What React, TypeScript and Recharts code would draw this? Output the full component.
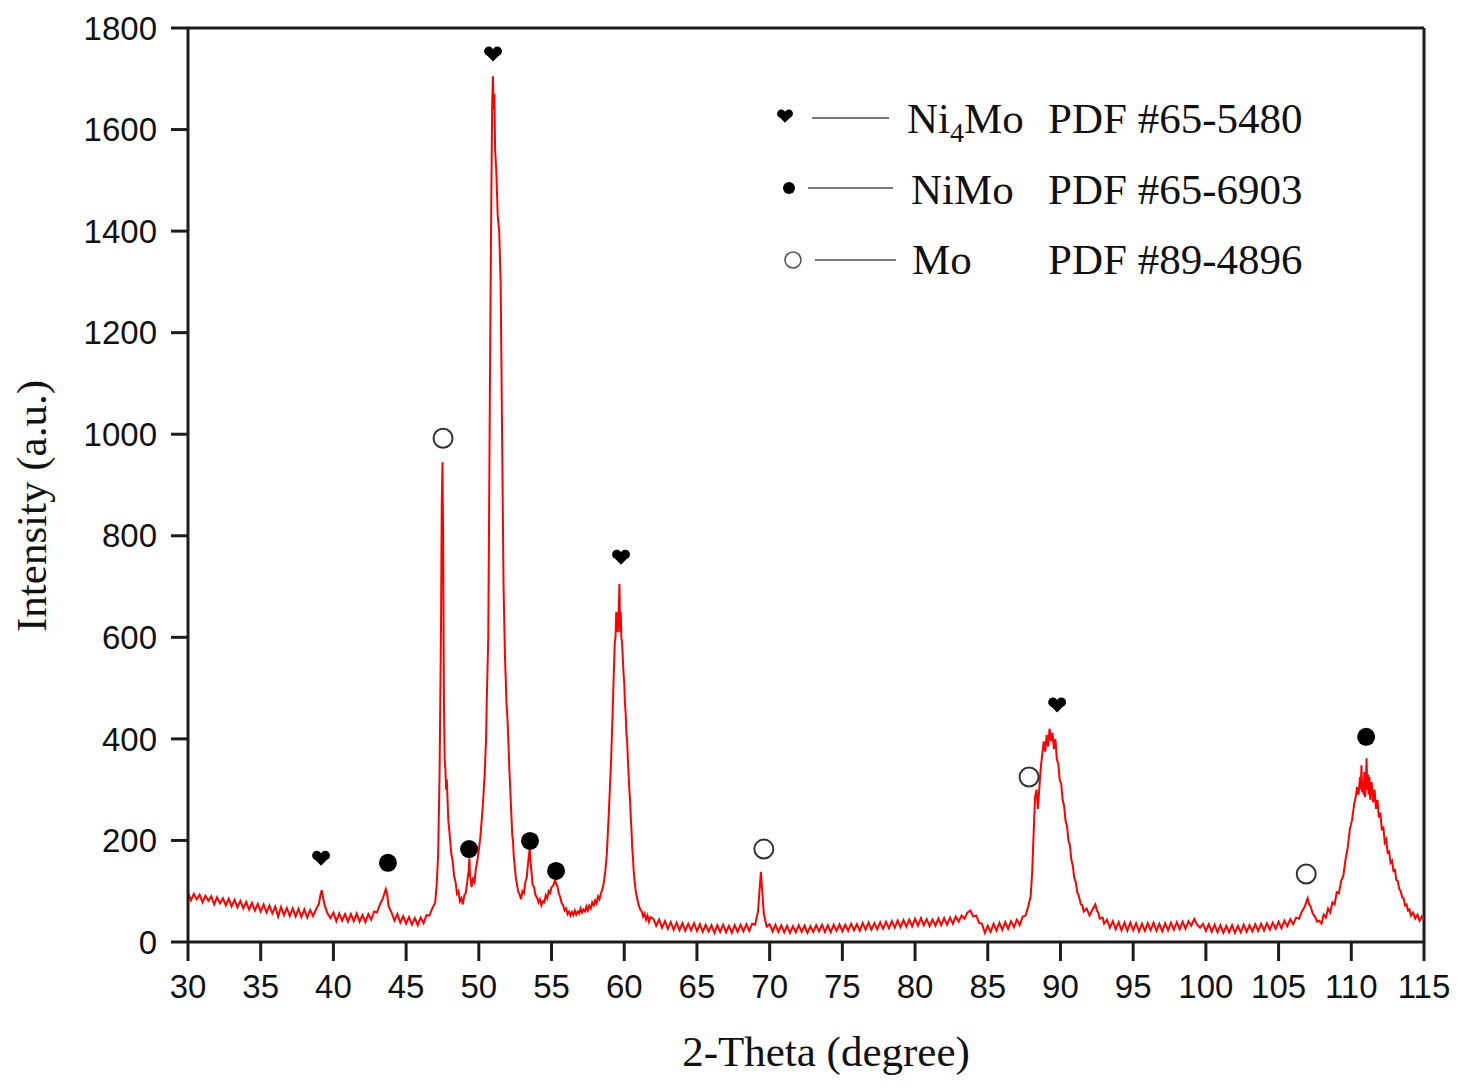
import { ComposedChart, Line, Scatter, XAxis, YAxis, ReferenceLine, Label } from "recharts";

// 2-Theta (degree), intensity (a.u.)
const xrdScan: [number, number][] = [
  [30.0, 98], [30.2, 82], [30.4, 95], [30.6, 84], [30.8, 93], [31.0, 78], [31.2, 91], [31.4, 81], [31.6, 90], [31.8, 74],
  [32.0, 88], [32.2, 76], [32.4, 86], [32.6, 72], [32.8, 85], [33.0, 70], [33.2, 83], [33.4, 68], [33.6, 81], [33.8, 66],
  [34.0, 79], [34.2, 64], [34.4, 77], [34.6, 62], [34.8, 75], [35.0, 60], [35.2, 74], [35.4, 58], [35.6, 72], [35.8, 56],
  [36.0, 70], [36.2, 50], [36.4, 69], [36.6, 53], [36.8, 67], [37.0, 51], [37.2, 66], [37.4, 50], [37.6, 65], [37.8, 49],
  [38.0, 64], [38.2, 48], [38.4, 63], [38.6, 51], [38.8, 64], [39.0, 75], [39.1, 92], [39.2, 102], [39.3, 86], [39.4, 72],
  [39.6, 56], [39.8, 47], [40.0, 58], [40.2, 41], [40.4, 56], [40.6, 42], [40.8, 55], [41.0, 40], [41.2, 55], [41.4, 41],
  [41.6, 56], [41.8, 40], [42.0, 53], [42.2, 39], [42.4, 55], [42.6, 44], [42.8, 60], [43.0, 58], [43.2, 74], [43.4, 86],
  [43.6, 104], [43.7, 94], [43.8, 70], [44.0, 58], [44.2, 42], [44.4, 55], [44.6, 38], [44.8, 51], [45.0, 36], [45.2, 49],
  [45.4, 34], [45.6, 47], [45.8, 33], [46.0, 48], [46.2, 37], [46.4, 53], [46.6, 52], [46.8, 66], [47.0, 78], [47.1, 112],
  [47.2, 170], [47.3, 330], [47.4, 620], [47.45, 860], [47.5, 945], [47.55, 780], [47.6, 480], [47.65, 360], [47.7, 340],
  [47.75, 300], [47.8, 320], [47.9, 240], [48.0, 210], [48.1, 175], [48.2, 160], [48.3, 130], [48.4, 118], [48.5, 95],
  [48.6, 100], [48.7, 80], [48.8, 86], [48.9, 74], [49.0, 92], [49.1, 96], [49.2, 118], [49.3, 140], [49.35, 165],
  [49.4, 130], [49.45, 122], [49.5, 108], [49.6, 124], [49.7, 118], [49.8, 145], [49.9, 160], [50.0, 182], [50.1, 205],
  [50.2, 240], [50.3, 280], [50.4, 330], [50.5, 400], [50.55, 480], [50.65, 600], [50.72, 900], [50.8, 1250],
  [50.87, 1500], [50.92, 1650], [50.97, 1705], [51.02, 1640], [51.07, 1670], [51.12, 1560], [51.2, 1520], [51.3, 1430],
  [51.4, 1400], [51.5, 1300], [51.6, 1000], [51.7, 700], [51.8, 560], [51.85, 520], [51.9, 470], [51.95, 450],
  [52.0, 420], [52.05, 380], [52.1, 340], [52.15, 310], [52.2, 275], [52.3, 210], [52.35, 200], [52.4, 170], [52.5, 140],
  [52.55, 125], [52.6, 118], [52.7, 100], [52.8, 94], [52.9, 84], [53.0, 100], [53.1, 96], [53.2, 118], [53.3, 128],
  [53.35, 145], [53.45, 172], [53.5, 184], [53.55, 160], [53.6, 145], [53.7, 112], [53.8, 108], [53.9, 92], [54.0, 88],
  [54.1, 78], [54.2, 84], [54.3, 72], [54.4, 80], [54.5, 78], [54.6, 92], [54.7, 86], [54.8, 100], [54.9, 96],
  [55.0, 108], [55.1, 110], [55.25, 122], [55.3, 116], [55.4, 110], [55.5, 96], [55.6, 88], [55.7, 76], [55.8, 72],
  [55.9, 62], [56.0, 66], [56.1, 55], [56.2, 60], [56.3, 52], [56.4, 59], [56.5, 53], [56.6, 62], [56.7, 54], [56.8, 60],
  [56.9, 56], [57.0, 66], [57.1, 58], [57.2, 64], [57.3, 60], [57.4, 70], [57.5, 62], [57.6, 72], [57.7, 66], [57.8, 78],
  [57.9, 72], [58.0, 82], [58.1, 76], [58.2, 90], [58.3, 84], [58.4, 96], [58.5, 104], [58.6, 118], [58.7, 140],
  [58.8, 172], [58.95, 260], [59.1, 360], [59.2, 450], [59.25, 500], [59.35, 590], [59.4, 600], [59.45, 650], [59.5, 640],
  [59.55, 610], [59.6, 630], [59.67, 705], [59.72, 610], [59.76, 650], [59.8, 600], [59.85, 590], [59.9, 560],
  [59.95, 530], [60.0, 510], [60.05, 470], [60.1, 450], [60.15, 410], [60.2, 395], [60.25, 360], [60.3, 330],
  [60.35, 300], [60.4, 280], [60.45, 245], [60.5, 220], [60.55, 185], [60.6, 165], [60.65, 140], [60.7, 124], [60.8, 98],
  [60.9, 84], [61.0, 72], [61.1, 64], [61.2, 60], [61.3, 50], [61.4, 56], [61.5, 44], [61.6, 52], [61.7, 40], [61.8, 49],
  [62.0, 46], [62.2, 32], [62.4, 44], [62.6, 28], [62.8, 41], [63.0, 26], [63.2, 39], [63.4, 24], [63.6, 38], [63.8, 23],
  [64.0, 37], [64.2, 22], [64.4, 36], [64.6, 23], [64.8, 37], [65.0, 22], [65.2, 35], [65.4, 20], [65.6, 34], [65.8, 21],
  [66.0, 33], [66.2, 18], [66.4, 33], [66.6, 20], [66.8, 34], [67.0, 19], [67.2, 32], [67.4, 18], [67.6, 33], [67.8, 20],
  [68.0, 34], [68.2, 21], [68.4, 35], [68.6, 22], [68.8, 36], [69.0, 34], [69.2, 60], [69.3, 100], [69.4, 138],
  [69.5, 95], [69.6, 55], [69.7, 42], [69.8, 30], [70.0, 35], [70.2, 21], [70.4, 34], [70.6, 20], [70.8, 33], [71.0, 19],
  [71.2, 32], [71.4, 18], [71.6, 31], [71.8, 19], [72.0, 33], [72.2, 20], [72.4, 32], [72.6, 18], [72.8, 31], [73.0, 20],
  [73.2, 33], [73.4, 21], [73.6, 34], [73.8, 20], [74.0, 33], [74.2, 19], [74.4, 34], [74.6, 22], [74.8, 35], [75.0, 21],
  [75.2, 34], [75.4, 22], [75.6, 36], [75.8, 23], [76.0, 35], [76.2, 22], [76.4, 37], [76.6, 24], [76.8, 38], [77.0, 24],
  [77.2, 37], [77.4, 25], [77.6, 39], [77.8, 26], [78.0, 40], [78.2, 27], [78.4, 41], [78.6, 28], [78.8, 42], [79.0, 29],
  [79.2, 43], [79.4, 30], [79.6, 44], [79.8, 31], [80.0, 46], [80.2, 32], [80.4, 47], [80.6, 33], [80.8, 45], [81.0, 31],
  [81.2, 44], [81.4, 32], [81.6, 46], [81.8, 33], [82.0, 47], [82.2, 34], [82.4, 48], [82.6, 36], [82.8, 50], [83.0, 40],
  [83.2, 52], [83.4, 46], [83.6, 58], [83.8, 62], [84.0, 50], [84.2, 52], [84.4, 38], [84.6, 36], [84.8, 18], [85.0, 32],
  [85.2, 20], [85.4, 36], [85.6, 22], [85.8, 38], [86.0, 24], [86.2, 39], [86.4, 26], [86.6, 41], [86.8, 29], [87.0, 44],
  [87.2, 33], [87.4, 50], [87.6, 52], [87.8, 72], [87.95, 90], [88.05, 135], [88.15, 210], [88.25, 285], [88.35, 300],
  [88.45, 262], [88.55, 305], [88.65, 345], [88.75, 370], [88.85, 395], [88.95, 375], [89.05, 408], [89.15, 385],
  [89.25, 420], [89.35, 395], [89.45, 412], [89.55, 380], [89.65, 400], [89.75, 360], [89.85, 350], [89.95, 318],
  [90.05, 312], [90.15, 280], [90.25, 268], [90.35, 238], [90.45, 228], [90.55, 200], [90.65, 190], [90.75, 162],
  [90.85, 150], [90.95, 126], [91.05, 118], [91.15, 98], [91.25, 92], [91.4, 74], [91.5, 72], [91.6, 60], [91.8, 66],
  [92.0, 52], [92.2, 64], [92.4, 74], [92.5, 62], [92.6, 58], [92.7, 46], [92.9, 48], [93.0, 36], [93.2, 44], [93.4, 28],
  [93.6, 41], [93.8, 25], [94.0, 39], [94.2, 23], [94.4, 38], [94.6, 22], [94.8, 38], [95.0, 23], [95.2, 37], [95.4, 21],
  [95.6, 36], [95.8, 22], [96.0, 37], [96.2, 23], [96.4, 38], [96.6, 22], [96.8, 36], [97.0, 21], [97.2, 37], [97.4, 23],
  [97.6, 38], [97.8, 24], [98.0, 39], [98.2, 25], [98.4, 40], [98.6, 26], [98.8, 41], [99.0, 32], [99.2, 45], [99.4, 34],
  [99.6, 28], [99.8, 36], [100.0, 22], [100.2, 35], [100.4, 20], [100.6, 34], [100.8, 19], [101.0, 33], [101.2, 18],
  [101.4, 32], [101.6, 19], [101.8, 33], [102.0, 18], [102.2, 32], [102.4, 19], [102.6, 34], [102.8, 20], [103.0, 33],
  [103.2, 21], [103.4, 35], [103.6, 22], [103.8, 36], [104.0, 23], [104.2, 37], [104.4, 24], [104.6, 38], [104.8, 26],
  [105.0, 40], [105.2, 27], [105.4, 42], [105.6, 31], [105.8, 45], [106.0, 35], [106.2, 48], [106.4, 46], [106.6, 60],
  [106.8, 70], [106.9, 78], [107.0, 86], [107.1, 74], [107.2, 70], [107.35, 56], [107.5, 50], [107.65, 40], [107.8, 42],
  [107.95, 36], [108.1, 54], [108.25, 48], [108.4, 66], [108.55, 58], [108.7, 78], [108.85, 74], [109.0, 98],
  [109.15, 96], [109.3, 120], [109.45, 130], [109.6, 162], [109.75, 185], [109.9, 222], [110.05, 240], [110.2, 272],
  [110.3, 285], [110.4, 305], [110.5, 290], [110.6, 325], [110.65, 300], [110.7, 348], [110.75, 295], [110.8, 318],
  [110.85, 290], [110.9, 335], [110.95, 285], [111.0, 310], [111.05, 362], [111.1, 300], [111.15, 330], [111.2, 290],
  [111.25, 325], [111.3, 280], [111.4, 315], [111.5, 275], [111.6, 300], [111.7, 262], [111.8, 280], [111.9, 245],
  [112.0, 255], [112.1, 220], [112.2, 228], [112.3, 196], [112.4, 202], [112.5, 176], [112.6, 178], [112.7, 156],
  [112.8, 160], [112.9, 140], [113.0, 142], [113.1, 122], [113.2, 120], [113.3, 104], [113.4, 100], [113.5, 88],
  [113.6, 86], [113.7, 72], [113.8, 74], [113.9, 62], [114.0, 64], [114.1, 52], [114.25, 58], [114.4, 46], [114.55, 54],
  [114.7, 42], [114.85, 50], [115.0, 45],
];

// phase markers: [2-Theta, marker height]
const ni4moPeaks: [number, number][] = [[39.15, 165], [50.98, 1749], [59.78, 758], [89.77, 467]];
const nimoPeaks: [number, number][] = [[43.75, 156], [49.33, 183], [53.52, 199], [55.31, 140], [111.02, 404]];
const moPeaks: [number, number][] = [[47.54, 992], [69.6, 183], [87.84, 325], [106.9, 134]];

const xTicks = [30, 35, 40, 45, 50, 55, 60, 65, 70, 75, 80, 85, 90, 95, 100, 105, 110, 115];
const yTicks = [0, 200, 400, 600, 800, 1000, 1200, 1400, 1600, 1800];

const toPoints = (rows: [number, number][]) => rows.map(([theta, counts]) => ({ theta, counts }));

const SANS = "'Liberation Sans', Arial, sans-serif";
const SERIF = "'Liberation Serif', 'Times New Roman', serif";
const AXIS = "#1c1c1c";

// heart made of two lobes and a point, s = half width
function HeartGlyph({ cx, cy, s }: { cx: number; cy: number; s: number }) {
  const r = s * 0.52;
  return (
    <g fill="#000">
      <circle cx={cx - s * 0.47} cy={cy - s * 0.3} r={r} />
      <circle cx={cx + s * 0.47} cy={cy - s * 0.3} r={r} />
      <path d={`M ${cx - s * 0.98} ${cy - s * 0.15} L ${cx + s * 0.98} ${cy - s * 0.15} L ${cx} ${cy + s * 0.85} Z`} />
    </g>
  );
}

const Heart = (props: any) => <HeartGlyph cx={props.cx} cy={props.cy} s={9} />;
const Dot = (props: any) => <circle cx={props.cx} cy={props.cy} r={9} fill="#000" />;
const Ring = (props: any) => <circle cx={props.cx} cy={props.cy} r={9.5} fill="#fff" stroke="#333" strokeWidth={2} />;

function LegendRow({ top, symbol, lineFrom, lineTo, name }: any) {
  return (
    <div style={{ position: "absolute", left: 0, top: 0 }}>
      <svg style={{ position: "absolute", left: 760, top: top - 20 }} width={150} height={40}>
        {symbol}
        <line x1={lineFrom - 760} x2={lineTo - 760} y1={20} y2={20} stroke="#777" strokeWidth={2} />
      </svg>
      {name}
    </div>
  );
}

export default function App() {
  const textStyle = { position: "absolute" as const, fontFamily: SERIF, fontSize: 43, lineHeight: "43px", color: "#111", whiteSpace: "nowrap" as const };
  return (
    <div style={{ position: "relative", width: 1460, height: 1080 }}>
      <ComposedChart width={1460} height={1080} margin={{ top: 20, right: 44, left: 0, bottom: 0 }}>
        <XAxis
          dataKey="theta"
          type="number"
          domain={[30, 115]}
          ticks={xTicks}
          allowDataOverflow
          height={146}
          tickSize={19}
          tickMargin={14}
          axisLine={{ stroke: AXIS, strokeWidth: 3 }}
          tickLine={{ stroke: AXIS, strokeWidth: 3 }}
          tick={{ fill: "#111", fontSize: 33, fontFamily: SANS }}
        >
          <Label
            content={() => (
              <text x={818} y={1058} textAnchor="middle" fontFamily={SERIF} fontSize={43} fill="#111">
                2-Theta (degree)
              </text>
            )}
          />
        </XAxis>
        <YAxis
          dataKey="counts"
          type="number"
          domain={[0, 1800]}
          ticks={yTicks}
          allowDataOverflow
          width={180}
          tickSize={17}
          tickMargin={14}
          axisLine={{ stroke: AXIS, strokeWidth: 3 }}
          tickLine={{ stroke: AXIS, strokeWidth: 3 }}
          tick={{ fill: "#111", fontSize: 33, fontFamily: SANS }}
        >
          <Label
            content={() => (
              <text x={38} y={498} transform="rotate(-90 38 498)" textAnchor="middle" fontFamily={SERIF} fontSize={43} fill="#111">
                Intensity (a.u.)
              </text>
            )}
          />
        </YAxis>
        <ReferenceLine y={1800} stroke={AXIS} strokeWidth={3} />
        <ReferenceLine x={115} stroke={AXIS} strokeWidth={3} />
        <Line
          data={toPoints(xrdScan)}
          dataKey="counts"
          type="linear"
          stroke="#ff0000"
          strokeWidth={2}
          dot={false}
          isAnimationActive={false}
        />
        <Scatter data={toPoints(ni4moPeaks)} dataKey="counts" shape={Heart} isAnimationActive={false} />
        <Scatter data={toPoints(nimoPeaks)} dataKey="counts" shape={Dot} isAnimationActive={false} />
        <Scatter data={toPoints(moPeaks)} dataKey="counts" shape={Ring} isAnimationActive={false} />
      </ComposedChart>

      <LegendRow
        top={110}
        lineFrom={804}
        lineTo={881}
        symbol={<HeartGlyph cx={17} cy={18} s={8} />}
        name={
          <>
            <span style={{ ...textStyle, left: 899, top: 89 }}>
              Ni<sub style={{ fontSize: 28, verticalAlign: "-9px" }}>4</sub>Mo
            </span>
            <span style={{ ...textStyle, left: 1040, top: 89 }}>PDF #65-5480</span>
          </>
        }
      />
      <LegendRow
        top={180}
        lineFrom={800}
        lineTo={885}
        symbol={<circle cx={21} cy={20} r={6} fill="#000" />}
        name={
          <>
            <span style={{ ...textStyle, left: 903, top: 160 }}>NiMo</span>
            <span style={{ ...textStyle, left: 1040, top: 160 }}>PDF #65-6903</span>
          </>
        }
      />
      <LegendRow
        top={252}
        lineFrom={807}
        lineTo={888}
        symbol={<circle cx={25} cy={20} r={8} fill="#fff" stroke="#555" strokeWidth={1.6} />}
        name={
          <>
            <span style={{ ...textStyle, left: 904, top: 230 }}>Mo</span>
            <span style={{ ...textStyle, left: 1040, top: 230 }}>PDF #89-4896</span>
          </>
        }
      />
    </div>
  );
}
